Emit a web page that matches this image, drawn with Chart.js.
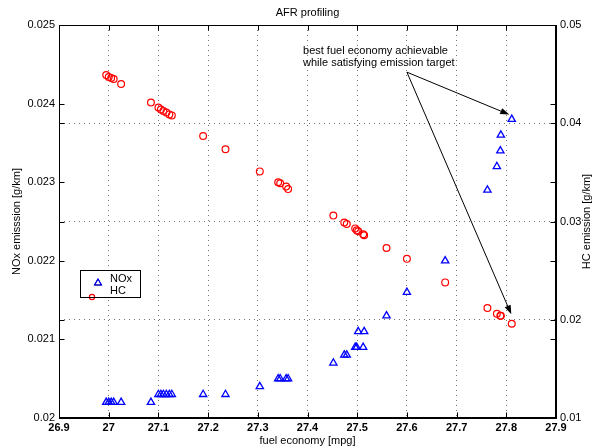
<!DOCTYPE html>
<html>
<head>
<meta charset="utf-8">
<script src="https://cdn.jsdelivr.net/npm/chart.js@4/dist/chart.umd.min.js"></script>
<style>
  html, body { margin: 0; padding: 0; background: #fff; }
  canvas { display: block; }
</style>
</head>
<body>
<canvas id="c" width="593" height="448" style="width:593px;height:448px"></canvas>
<script>
// ---- data ----
const fuelEconomy = [26.995, 27.000, 27.005, 27.010, 27.025, 27.085, 27.100, 27.105, 27.110, 27.116, 27.122, 27.127,
  27.190, 27.235, 27.304, 27.341, 27.345, 27.357, 27.361, 27.452, 27.474, 27.479,
  27.496, 27.499, 27.502, 27.512, 27.514, 27.559, 27.600, 27.677, 27.762, 27.781, 27.788, 27.789, 27.811];
const noxEmission = [0.0202, 0.0202, 0.0202, 0.0202, 0.0202, 0.0202, 0.0203, 0.0203, 0.0203, 0.0203, 0.0203, 0.0203,
  0.0203, 0.0203, 0.0204, 0.0205, 0.0205, 0.0205, 0.0205, 0.0207, 0.0208, 0.0208,
  0.0209, 0.0209, 0.0211, 0.0209, 0.0211, 0.0213, 0.0216, 0.0220, 0.0229, 0.0232, 0.0234, 0.0236, 0.0238];
const hcEmission = [0.0449, 0.0447, 0.0446, 0.0445, 0.0440, 0.0421, 0.0416, 0.0414, 0.04125, 0.0411, 0.0409, 0.0408,
  0.0387, 0.03735, 0.0351, 0.0340, 0.0339, 0.03355, 0.0333, 0.0306, 0.0299, 0.02975,
  0.0293, 0.0291, 0.0290, 0.0287, 0.0286, 0.0273, 0.0262, 0.0238, 0.0212, 0.0206, 0.0204, 0.0204, 0.0196];
const xTicks = [26.9, 27.0, 27.1, 27.2, 27.3, 27.4, 27.5, 27.6, 27.7, 27.8, 27.9];
const noxTicks = [0.020, 0.021, 0.022, 0.023, 0.024, 0.025];
const hcTicks = [0.01, 0.02, 0.03, 0.04, 0.05];
const seriesNames = ['NOx', 'HC'];
const annotationLines = ['best fuel economy achievable', 'while satisfying emission target'];
// annotation anchor / arrow points in data units (mpg, NOx or HC)
const annotationAnchor = { x: 27.391, nox: 0.02467 };
const arrowStart = { x: 27.600, nox: 0.02440 };
const arrowEndNox = { x: 27.806, nox: 0.02386 };
const arrowEndHc = { x: 27.810, hc: 0.02055 };

// ---- styling ----
const FONT = "'Liberation Sans', Arial, Helvetica, sans-serif";
const GRID = 'rgba(0,0,0,0.55)';

function fmt(v, d) { return String(+v.toFixed(d)); }

const overlay = {
  id: 'overlay',
  afterDraw(chart) {
    const { ctx, chartArea: a, scales } = chart;
    const sx = scales.x, yl = scales.y, yr = scales.y1;
    const L = Math.round(a.left) + 0.5, R = Math.round(a.right) - 0.5;
    const T = Math.round(a.top) + 0.5, B = Math.round(a.bottom) - 0.5;
    ctx.save();
    ctx.strokeStyle = '#000';
    ctx.lineWidth = 1;
    ctx.strokeRect(L, T, R - L, B - T);
    const tl = 5;
    ctx.beginPath();
    xTicks.forEach(v => {
      const p = Math.round(sx.getPixelForValue(v)) + 0.5;
      ctx.moveTo(p, B); ctx.lineTo(p, B - tl);
      ctx.moveTo(p, T); ctx.lineTo(p, T + tl);
    });
    noxTicks.forEach(v => {
      const p = Math.round(yl.getPixelForValue(v)) + 0.5;
      ctx.moveTo(L, p); ctx.lineTo(L + tl, p);
      ctx.moveTo(R, p); ctx.lineTo(R - tl, p);
    });
    hcTicks.forEach(v => {
      const p = Math.round(yr.getPixelForValue(v)) + 0.5;
      ctx.moveTo(L, p); ctx.lineTo(L + tl, p);
      ctx.moveTo(R, p); ctx.lineTo(R - tl, p);
    });
    ctx.stroke();

    // title
    ctx.fillStyle = '#000';
    ctx.font = '11px ' + FONT;
    ctx.textAlign = 'center';
    ctx.textBaseline = 'middle';
    ctx.fillText('AFR profiling', (a.left + a.right) / 2, 13);

    // right axis title
    ctx.save();
    ctx.translate(587, (a.top + a.bottom) / 2);
    ctx.rotate(-Math.PI / 2);
    ctx.fillText('HC emission [g/km]', 0, 0);
    ctx.restore();

    // annotation text
    ctx.textAlign = 'left';
    const ax = sx.getPixelForValue(annotationAnchor.x);
    const ay = yl.getPixelForValue(annotationAnchor.nox);
    annotationLines.forEach((t, i) => ctx.fillText(t, ax, ay + i * 12.5));

    // arrows
    const x0 = sx.getPixelForValue(arrowStart.x), y0 = yl.getPixelForValue(arrowStart.nox);
    const drawArrow = (x1, y1) => {
      const ang = Math.atan2(y1 - y0, x1 - x0);
      const hl = 9, hw = 3.2;
      const bx = x1 - hl * Math.cos(ang), by = y1 - hl * Math.sin(ang);
      ctx.beginPath();
      ctx.moveTo(x0, y0); ctx.lineTo(bx, by);
      ctx.lineWidth = 1; ctx.strokeStyle = '#000'; ctx.stroke();
      ctx.beginPath();
      ctx.moveTo(x1, y1);
      ctx.lineTo(bx + hw * Math.sin(ang), by - hw * Math.cos(ang));
      ctx.lineTo(bx - hw * Math.sin(ang), by + hw * Math.cos(ang));
      ctx.closePath();
      ctx.fillStyle = '#000'; ctx.fill();
    };
    drawArrow(sx.getPixelForValue(arrowEndNox.x), yl.getPixelForValue(arrowEndNox.nox));
    drawArrow(sx.getPixelForValue(arrowEndHc.x), yr.getPixelForValue(arrowEndHc.hc));

    // legend
    const lx = 80.5, ly = 270.5, lw = 60, lh = 27;
    ctx.fillStyle = '#fff';
    ctx.fillRect(lx, ly, lw, lh);
    const ds = chart.data.datasets;
    Chart.helpers.drawPoint(ctx, {
      pointStyle: 'triangle', radius: 4, borderWidth: 1.2, rotation: 0
    }, 98, 283);
    ctx.strokeStyle = ds[0].borderColor; ctx.lineWidth = 1.2;
    ctx.beginPath();
    ctx.moveTo(98, 279); ctx.lineTo(98 + 3.46, 285); ctx.lineTo(98 - 3.46, 285); ctx.closePath();
    ctx.stroke();
    ctx.strokeStyle = ds[1].borderColor;
    ctx.beginPath(); ctx.arc(92, 297, 2.6, 0, Math.PI * 2); ctx.stroke();
    ctx.strokeStyle = '#000'; ctx.lineWidth = 1;
    ctx.strokeRect(lx, ly, lw, lh);
    ctx.fillStyle = '#000';
    ctx.font = '11px ' + FONT;
    ctx.textAlign = 'left';
    ctx.fillText(seriesNames[0], 110, 279);
    ctx.fillText(seriesNames[1], 110, 291);
    ctx.restore();
  }
};

new Chart(document.getElementById('c'), {
  type: 'scatter',
  data: {
    datasets: [
      {
        label: seriesNames[0],
        data: fuelEconomy.map((x, i) => ({ x, y: noxEmission[i] })),
        yAxisID: 'y',
        pointStyle: 'triangle',
        pointRadius: 4.2,
        borderColor: '#0000ff',
        backgroundColor: 'rgba(0,0,0,0)',
        borderWidth: 1.3
      },
      {
        label: seriesNames[1],
        data: fuelEconomy.map((x, i) => ({ x, y: hcEmission[i] })),
        yAxisID: 'y1',
        pointStyle: 'circle',
        pointRadius: 3.4,
        borderColor: '#ff0000',
        backgroundColor: 'rgba(0,0,0,0)',
        borderWidth: 1.2
      }
    ]
  },
  options: {
    responsive: false,
    animation: false,
    devicePixelRatio: 1,
    layout: { padding: { top: 25, left: 0, right: 0, bottom: 0 } },
    plugins: { legend: { display: false }, tooltip: { enabled: false }, title: { display: false } },
    scales: {
      x: {
        type: 'linear', position: 'bottom', min: 26.9, max: 27.9,
        afterBuildTicks: s => { s.ticks = xTicks.map(v => ({ value: v })); },
        afterFit: s => { s.height = 30; },
        ticks: {
          autoSkip: false, maxRotation: 0, minRotation: 0, padding: 3, color: '#000',
          font: { family: FONT, size: 11, weight: 'bold' },
          callback: v => fmt(v, 1)
        },
        grid: { drawOnChartArea: true, drawTicks: false, color: GRID, lineWidth: 1 },
        border: { display: true, color: '#000', width: 1, dash: [1, 4] },
        title: { display: true, text: 'fuel economy [mpg]', color: '#000', font: { family: FONT, size: 11 }, padding: { top: 0, bottom: 0 } }
      },
      y: {
        type: 'linear', position: 'left', min: 0.020, max: 0.025,
        afterBuildTicks: s => { s.ticks = noxTicks.map(v => ({ value: v })); },
        afterFit: s => { s.width = 59; },
        ticks: { autoSkip: false, padding: 4, color: '#000', font: { family: FONT, size: 11 }, callback: v => fmt(v, 3) },
        grid: { drawOnChartArea: false, drawTicks: false },
        border: { display: true, color: '#000', width: 1 },
        title: { display: true, text: 'NOx emisssion [g/km]', color: '#000', font: { family: FONT, size: 11 }, padding: { top: 10, bottom: 0 } }
      },
      y1: {
        type: 'linear', position: 'right', min: 0.01, max: 0.05,
        afterBuildTicks: s => { s.ticks = hcTicks.map(v => ({ value: v })); },
        afterFit: s => { s.width = 37; },
        ticks: { autoSkip: false, padding: 4, color: '#000', font: { family: FONT, size: 11 }, callback: v => fmt(v, 2) },
        grid: { drawOnChartArea: true, drawTicks: false, color: GRID, lineWidth: 1 },
        border: { display: true, color: '#000', width: 1, dash: [1, 4] }
      }
    }
  },
  plugins: [overlay]
});
</script>
</body>
</html>
